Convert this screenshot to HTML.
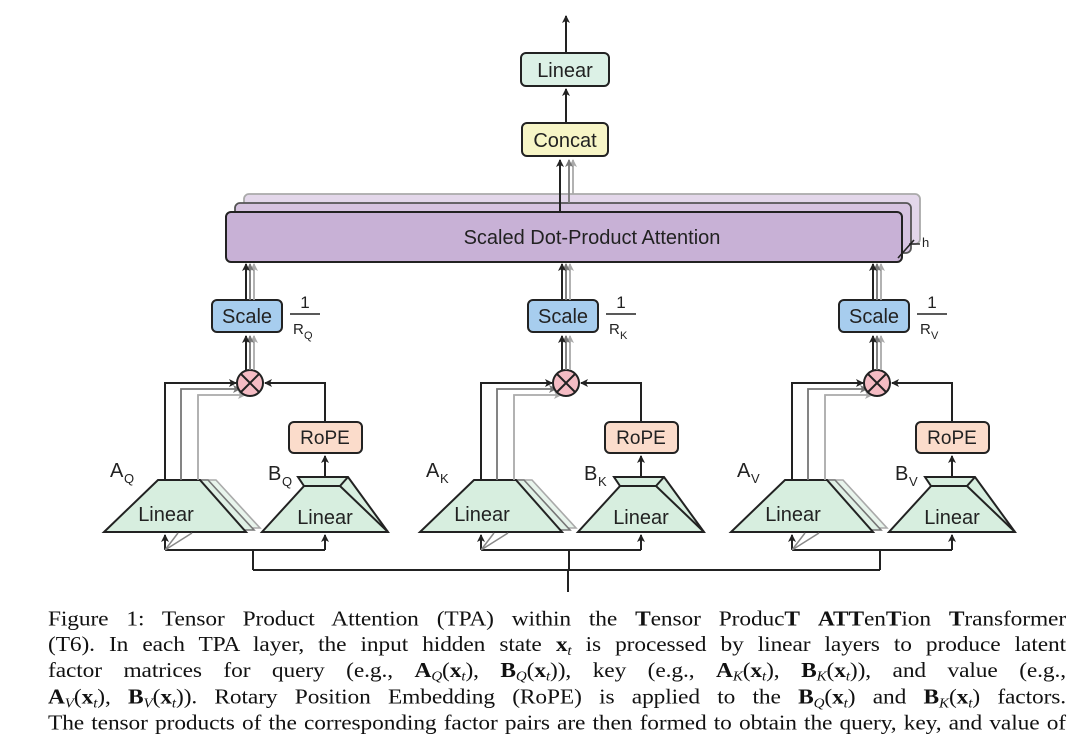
<!DOCTYPE html>
<html><head><meta charset="utf-8"><style>
body{margin:0;background:#fff;width:1080px;height:726px;overflow:hidden;position:relative}
svg{position:absolute;left:0;top:0}
svg text{font-family:"Liberation Sans",sans-serif}
.cap{position:absolute;left:48px;width:1018px;font-family:"Liberation Serif",serif;font-size:23.4px;line-height:26px;top:607px;color:#111;transform:scaleY(0.92);transform-origin:0 0}
.cap div{text-align:justify;text-align-last:justify;white-space:nowrap;height:28.2px;overflow:visible;letter-spacing:-0.1px}
.cap sub{font-size:15px;line-height:0;vertical-align:baseline;position:relative;top:4px}
</style></head><body>
<svg width="1080" height="726" viewBox="0 0 1080 726">
<defs>
<marker id="a" markerWidth="8" markerHeight="8" refX="7" refY="4" orient="auto" markerUnits="userSpaceOnUse"><path d="M0,0 L8,4 L0,8 L2,4z" fill="#222"/></marker>
<marker id="g" markerWidth="8" markerHeight="8" refX="7" refY="4" orient="auto" markerUnits="userSpaceOnUse"><path d="M0,0 L8,4 L0,8 L2,4z" fill="#777"/></marker>
<marker id="l" markerWidth="8" markerHeight="8" refX="7" refY="4" orient="auto" markerUnits="userSpaceOnUse"><path d="M0,0 L8,4 L0,8 L2,4z" fill="#aaa"/></marker>
<g id="grp">
 <path d="M184,480 L216,480 L260,528 L138,528Z" fill="#e8f4ec" stroke="#aaa" stroke-width="1.6"/>
 <path d="M172,480 L208,480 L254,530 L122,530Z" fill="#dff0e5" stroke="#777" stroke-width="1.6"/>
 <path d="M158,480 L200,480 L246,532 L104,532Z" fill="#d7eedf" stroke="#222" stroke-width="2"/>
 <text x="166" y="521" font-size="20" text-anchor="middle" fill="#222">Linear</text>
 <text x="110" y="477" font-size="20" fill="#222">A</text>
 <path d="M198,480 V395 H245" fill="none" stroke="#aaa" stroke-width="1.8" marker-end="url(#l)"/>
 <path d="M181,480 V389 H240" fill="none" stroke="#777" stroke-width="1.8" marker-end="url(#g)"/>
 <path d="M165,480 V383 H236" fill="none" stroke="#222" stroke-width="2" marker-end="url(#a)"/>
 <path d="M298,477 L348,477 L388,532 L262,532 L304,486Z" fill="#d7eedf" stroke="#222" stroke-width="2"/>
 <path d="M304,486 L340,486 L388,532 M348,477 L340,486" fill="none" stroke="#222" stroke-width="2"/>
 <text x="325" y="524" font-size="20" text-anchor="middle" fill="#222">Linear</text>
 <text x="268" y="480" font-size="20" fill="#222">B</text>
 <line x1="325" y1="477" x2="325" y2="456" stroke="#222" stroke-width="2" marker-end="url(#a)"/>
 <rect x="289" y="422" width="73" height="31" rx="5" fill="#fbdccb" stroke="#222" stroke-width="2"/>
 <text x="325" y="444" font-size="19" text-anchor="middle" fill="#222">RoPE</text>
 <path d="M325,422 V383 H265" fill="none" stroke="#222" stroke-width="2" marker-end="url(#a)"/>
 <circle cx="250" cy="383" r="13" fill="#f5bcc4" stroke="#222" stroke-width="2"/>
 <path d="M241,374 L259,392 M259,374 L241,392" stroke="#222" stroke-width="2"/>
 <line x1="254" y1="370" x2="254" y2="336" stroke="#aaa" stroke-width="1.8" marker-end="url(#l)"/>
 <line x1="250" y1="370" x2="250" y2="336" stroke="#777" stroke-width="1.8" marker-end="url(#g)"/>
 <line x1="246" y1="370" x2="246" y2="336" stroke="#222" stroke-width="2" marker-end="url(#a)"/>
 <rect x="212" y="300" width="70" height="32" rx="5" fill="#a7cdee" stroke="#222" stroke-width="2"/>
 <text x="247" y="323" font-size="20" text-anchor="middle" fill="#222">Scale</text>
 <text x="305" y="308" font-size="17" text-anchor="middle" fill="#222">1</text>
 <line x1="290" y1="314" x2="320" y2="314" stroke="#222" stroke-width="1.5"/>
 <text x="293" y="334" font-size="15" fill="#222">R</text>
 <line x1="254" y1="300" x2="254" y2="264" stroke="#aaa" stroke-width="1.8" marker-end="url(#l)"/>
 <line x1="250" y1="300" x2="250" y2="264" stroke="#777" stroke-width="1.8" marker-end="url(#g)"/>
 <line x1="246" y1="300" x2="246" y2="264" stroke="#222" stroke-width="2" marker-end="url(#a)"/>
 <path d="M165,550 H325" fill="none" stroke="#222" stroke-width="2"/>
 <line x1="165" y1="550" x2="165" y2="535" stroke="#222" stroke-width="2" marker-end="url(#a)"/>
 <line x1="325" y1="550" x2="325" y2="535" stroke="#222" stroke-width="2" marker-end="url(#a)"/>
 <path d="M165,550 L178,533 M165,550 L192,533" stroke="#888" stroke-width="1.5"/>
 <line x1="253" y1="550" x2="253" y2="570" stroke="#222" stroke-width="2"/>
</g>
</defs>
<line x1="566" y1="52" x2="566" y2="16" stroke="#222" stroke-width="2" marker-end="url(#a)"/>
<rect x="521" y="53" width="88" height="33" rx="5" fill="#dcf1e6" stroke="#222" stroke-width="2"/>
<text x="565" y="77" font-size="20" text-anchor="middle" fill="#222">Linear</text>
<line x1="566" y1="122" x2="566" y2="89" stroke="#222" stroke-width="2" marker-end="url(#a)"/>
<rect x="522" y="123" width="86" height="33" rx="5" fill="#f7f5c6" stroke="#222" stroke-width="2"/>
<text x="565" y="147" font-size="20" text-anchor="middle" fill="#222">Concat</text>
<rect x="244" y="194" width="676" height="50" rx="5" fill="#e3d7ea" stroke="#aaa" stroke-width="1.8"/>
<rect x="235" y="203" width="676" height="50" rx="5" fill="#d6c3e0" stroke="#555" stroke-width="1.8"/>
<line x1="573" y1="194" x2="573" y2="160" stroke="#aaa" stroke-width="1.8" marker-end="url(#l)"/>
<line x1="569" y1="203" x2="569" y2="160" stroke="#777" stroke-width="1.8" marker-end="url(#g)"/>
<rect x="226" y="212" width="676" height="50" rx="5" fill="#c8b1d6" stroke="#222" stroke-width="2"/>
<line x1="560" y1="212" x2="560" y2="160" stroke="#222" stroke-width="2" marker-end="url(#a)"/>
<text x="592" y="244" font-size="20" text-anchor="middle" fill="#222">Scaled Dot-Product Attention</text>
<path d="M898,258 L914,240" stroke="#222" stroke-width="1.6"/>
<path d="M909,244 H920" stroke="#222" stroke-width="1.4"/>
<text x="922" y="247" font-size="13" fill="#222">h</text>
<use href="#grp"/>
<use href="#grp" transform="translate(316,0)"/>
<use href="#grp" transform="translate(627,0)"/>
<g font-size="13" fill="#222" font-family="Liberation Sans">
<text x="124" y="483">Q</text><text x="282" y="486">Q</text><text x="304" y="339" font-size="11">Q</text>
<text x="440" y="483">K</text><text x="598" y="486">K</text><text x="620" y="339" font-size="11">K</text>
<text x="751" y="483">V</text><text x="909" y="486">V</text><text x="931" y="339" font-size="11">V</text>
</g>
<path d="M253,570 H880" stroke="#222" stroke-width="2" fill="none"/>
<line x1="568" y1="570" x2="568" y2="592" stroke="#222" stroke-width="2"/>
</svg>
<div class="cap">
<div>Figure 1: Tensor Product Attention (TPA) within the <b>T</b>ensor Produc<b>T</b> <b>ATT</b>en<b>T</b>ion <b>T</b>ransformer</div>
<div>(T6). In each TPA layer, the input hidden state <b>x</b><sub><i>t</i></sub> is processed by linear layers to produce latent</div>
<div>factor matrices for query (e.g., <b>A</b><sub><i>Q</i></sub>(<b>x</b><sub><i>t</i></sub>), <b>B</b><sub><i>Q</i></sub>(<b>x</b><sub><i>t</i></sub>)), key (e.g., <b>A</b><sub><i>K</i></sub>(<b>x</b><sub><i>t</i></sub>), <b>B</b><sub><i>K</i></sub>(<b>x</b><sub><i>t</i></sub>)), and value (e.g.,</div>
<div><b>A</b><sub><i>V</i></sub>(<b>x</b><sub><i>t</i></sub>), <b>B</b><sub><i>V</i></sub>(<b>x</b><sub><i>t</i></sub>)). Rotary Position Embedding (RoPE) is applied to the <b>B</b><sub><i>Q</i></sub>(<b>x</b><sub><i>t</i></sub>) and <b>B</b><sub><i>K</i></sub>(<b>x</b><sub><i>t</i></sub>) factors.</div>
<div>The tensor products of the corresponding factor pairs are then formed to obtain the query, key, and value of</div>
</div>
</body></html>
